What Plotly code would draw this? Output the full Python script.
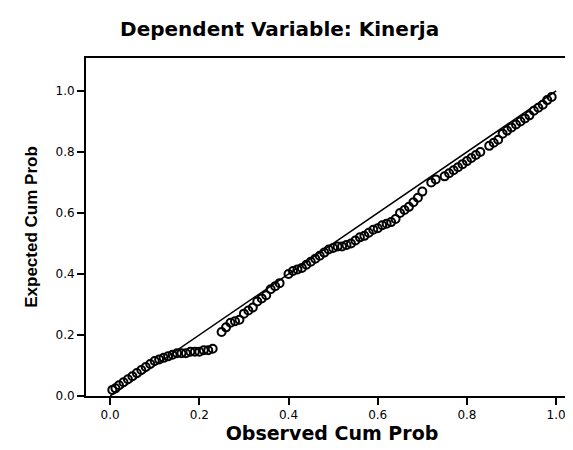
import plotly.graph_objects as go

observed = [0.005, 0.012, 0.02, 0.03, 0.04, 0.05, 0.06, 0.07, 0.08, 0.09, 0.10, 0.11,
            0.12, 0.13, 0.14, 0.15, 0.16, 0.17, 0.18, 0.19, 0.20, 0.21, 0.22, 0.23,
            0.25, 0.26, 0.27, 0.28, 0.29, 0.30, 0.31, 0.32, 0.33, 0.34, 0.35, 0.36,
            0.37, 0.38, 0.40, 0.41, 0.42, 0.43, 0.44, 0.45, 0.46, 0.47, 0.48, 0.49,
            0.50, 0.51, 0.52, 0.53, 0.54, 0.55, 0.56, 0.57, 0.58, 0.59, 0.60, 0.61,
            0.62, 0.63, 0.64, 0.65, 0.66, 0.67, 0.68, 0.69, 0.70, 0.72, 0.73, 0.75,
            0.76, 0.77, 0.78, 0.79, 0.80, 0.81, 0.82, 0.83, 0.85, 0.86, 0.87, 0.88,
            0.89, 0.90, 0.91, 0.92, 0.93, 0.94, 0.95, 0.96, 0.97, 0.98, 0.99]
expected = [0.02, 0.025, 0.035, 0.045, 0.055, 0.065, 0.075, 0.085, 0.095, 0.105, 0.115, 0.12,
            0.125, 0.13, 0.135, 0.14, 0.14, 0.14, 0.145, 0.145, 0.145, 0.15, 0.15, 0.155,
            0.21, 0.225, 0.24, 0.245, 0.25, 0.27, 0.28, 0.29, 0.31, 0.32, 0.33, 0.35,
            0.36, 0.37, 0.40, 0.41, 0.415, 0.42, 0.43, 0.44, 0.45, 0.46, 0.47, 0.48,
            0.485, 0.49, 0.49, 0.495, 0.50, 0.51, 0.52, 0.525, 0.535, 0.545, 0.55, 0.56,
            0.565, 0.57, 0.58, 0.60, 0.61, 0.62, 0.635, 0.65, 0.67, 0.70, 0.71, 0.72,
            0.73, 0.74, 0.75, 0.76, 0.77, 0.78, 0.79, 0.80, 0.82, 0.83, 0.84, 0.86,
            0.87, 0.88, 0.89, 0.90, 0.91, 0.92, 0.935, 0.945, 0.955, 0.97, 0.98]

diag = [0.0, 1.0]
tick_vals = [0.0, 0.2, 0.4, 0.6, 0.8, 1.0]
tick_text = ["0.0", "0.2", "0.4", "0.6", "0.8", "1.0"]

fig = go.Figure()
fig.add_trace(go.Scatter(x=diag, y=diag, mode="lines",
                         line=dict(color="black", width=1.5), showlegend=False))
fig.add_trace(go.Scatter(x=observed, y=expected, mode="markers",
                         marker=dict(symbol="circle-open", size=8, color="black",
                                     line=dict(width=2, color="black")),
                         cliponaxis=False, showlegend=False))

axis_common = dict(showline=True, linecolor="black", linewidth=2, mirror=True,
                   showgrid=False, zeroline=False, ticks="outside", ticklen=7,
                   tickcolor="black", tickwidth=2,
                   tickvals=tick_vals, ticktext=tick_text,
                   tickfont=dict(family="DejaVu Sans", size=12, color="black"))

fig.update_layout(
    width=573, height=450,
    margin=dict(l=78, r=1, t=50, b=62),
    paper_bgcolor="white", plot_bgcolor="white",
    title=dict(text="<b>Dependent Variable: Kinerja</b>", xref="container",
               x=0.474, xanchor="center", y=0.953, yanchor="middle",
               font=dict(family="DejaVu Sans", size=20, color="black")),
    xaxis=dict(range=[-0.054, 1.049],
               title=dict(text="<b>Observed Cum Prob</b>", standoff=2,
                          font=dict(family="DejaVu Sans", size=19, color="black")),
               **axis_common),
    yaxis=dict(range=[0.0, 1.108],
               title=dict(text="<b>Expected Cum Prob</b>", standoff=14,
                          font=dict(family="Liberation Sans", size=17, color="black")),
               **axis_common),
)

fig.write_html("out.html")
